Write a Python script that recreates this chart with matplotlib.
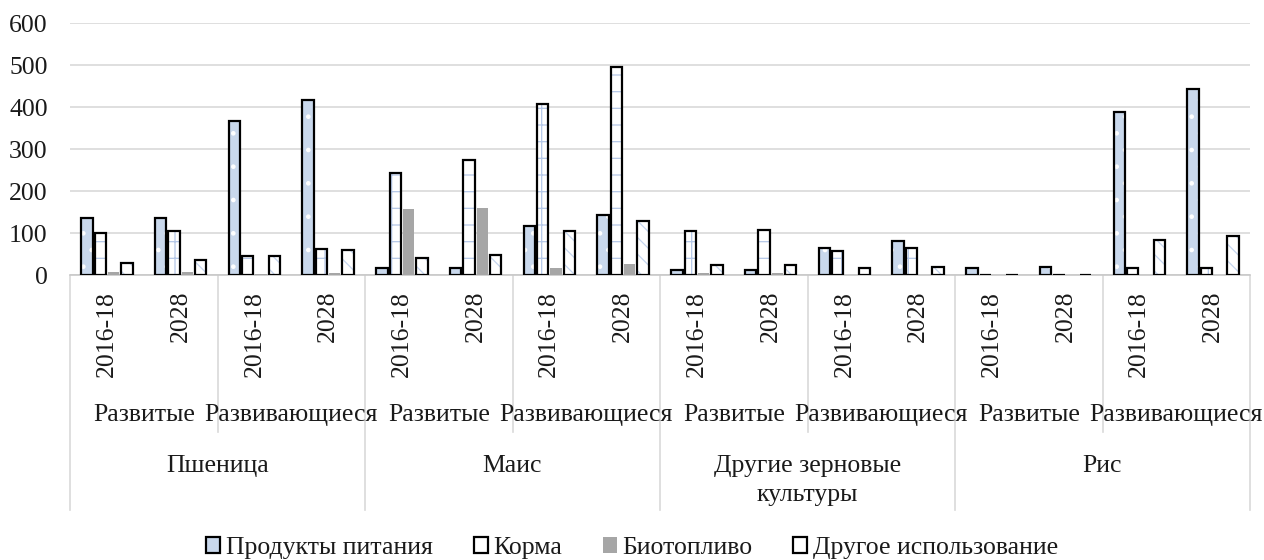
import matplotlib
matplotlib.use("Agg")
import matplotlib.pyplot as plt
import matplotlib.transforms as mtransforms
from matplotlib.patches import Patch
from matplotlib import font_manager
import numpy as np

# ---- data ----
crops = ["Пшеница", "Маис", "Другие зерновые\nкультуры", "Рис"]
groups = ["Развитые", "Развивающиеся"]
periods = ["2016-18", "2028"]
series_names = ["Продукты питания", "Корма", "Биотопливо", "Другое использование"]

food = [135, 135, 367, 416, 16, 16, 117, 142, 13, 13, 64, 80, 16, 19, 389, 444]
feed = [100, 105, 46, 62, 242, 273, 407, 496, 105, 107, 56, 64, 0, 0, 16, 16]
biofuel = [8, 8, 2, 5, 156, 159, 17, 27, 5, 5, 1, 1, 0, 0, 1, 1]
other = [29, 35, 46, 60, 40, 47, 105, 129, 25, 25, 16, 19, 0, 0, 83, 93]

yticks = [0, 100, 200, 300, 400, 500, 600]

# ---- style ----
names = {f.name for f in font_manager.fontManager.ttflist}
serif_pref = [f for f in ['Liberation Serif', 'Times New Roman', 'DejaVu Serif'] if f in names]
plt.rcParams['font.family'] = 'serif'
plt.rcParams['font.serif'] = serif_pref + ['DejaVu Serif']
plt.rcParams['hatch.linewidth'] = 0.9
FS = 18.5
TXT = '#1a1a1a'
GRID = '#d9d9d9'

W, H = 1264, 560
fig = plt.figure(figsize=(W / 100, H / 100), dpi=100)
ax = fig.add_axes([70 / W, 1 - 275 / H, (1250 - 70) / W, (275 - 23) / H])

n = len(food)
x = np.arange(n)
bw = 0.155
step = 0.18
offs = [-1.5 * step, -0.5 * step, 0.5 * step, 1.5 * step]

styles = [
    dict(face='#c9d8ec', hatch='.', hcol='#ffffff', edge=True),
    dict(face='#ffffff', hatch='+', hcol='#b4c7e7', edge=True),
    dict(face='#a6a6a6', hatch=None, hcol=None, edge=False),
    dict(face='#ffffff', hatch='\\\\', hcol='#c5d5ee', edge=True),
]
data = [food, feed, biofuel, other]

for vals, off, st in zip(data, offs, styles):
    if st['hatch']:
        ax.bar(x + off, vals, bw, color=st['face'], hatch=st['hatch'],
               edgecolor=st['hcol'], linewidth=0, zorder=3)
    else:
        ax.bar(x + off, vals, bw, color=st['face'], linewidth=0, zorder=3)
    if st['edge']:
        ax.bar(x + off, vals, bw, fill=False, edgecolor='black',
               linewidth=1.6, zorder=4)

ax.set_xlim(-0.5, n - 0.5)
ax.set_ylim(0, 600)
ax.set_yticks(yticks)
ax.set_yticklabels([str(t) for t in yticks], fontsize=FS, color=TXT)
ax.tick_params(axis='y', length=0, pad=16)
ax.set_xticks([])
ax.yaxis.grid(True, color=GRID, linewidth=1.2, zorder=0)
ax.set_axisbelow(True)
for s in ['left', 'right', 'top']:
    ax.spines[s].set_visible(False)
ax.spines['bottom'].set_color('#c8c8c8')
ax.spines['bottom'].set_linewidth(1.2)

# ---- multi-level category axis ----
tr = mtransforms.blended_transform_factory(ax.transData, fig.transFigure)
def fy(px):
    return 1 - px / H

# period labels
for i in range(n):
    ax.text(i, fy(291), periods[i % 2], rotation=90, ha='center', va='top',
            fontsize=FS, color=TXT, transform=tr, clip_on=False)

# group labels
for g in range(n // 2):
    ax.text(2 * g + 0.5, fy(421), groups[g % 2], ha='center', va='baseline',
            fontsize=FS, color=TXT, transform=tr, clip_on=False)

# crop labels (one line at a time)
for c in range(n // 4):
    for k, line in enumerate(crops[c].split('\n')):
        ax.text(4 * c + 1.5, fy(472 + 29 * k), line, ha='center', va='baseline',
                fontsize=FS, color=TXT, transform=tr, clip_on=False)

# separators
for b in range(0, n + 1, 2):
    bottom = 510 if b % 4 == 0 else 432
    ax.plot([b - 0.5, b - 0.5], [fy(276), fy(bottom)], color=GRID,
            linewidth=1.2, transform=tr, clip_on=False)

# ---- legend ----
handles = [
    Patch(facecolor='#c9d8ec', edgecolor='black', linewidth=1.6),
    Patch(facecolor='#ffffff', edgecolor='black', linewidth=1.6),
    Patch(facecolor='#a6a6a6', edgecolor='none', linewidth=0),
    Patch(facecolor='#ffffff', edgecolor='black', linewidth=1.6),
]
leg = fig.legend(handles, series_names, loc='center', bbox_to_anchor=(0.5, fy(548)),
                 ncol=4, frameon=False, fontsize=FS, handlelength=0.55,
                 handleheight=0.55, handletextpad=0.2, columnspacing=1.6,
                 borderaxespad=0)
for t in leg.get_texts():
    t.set_color(TXT)

fig.savefig('out.png', dpi=100)
